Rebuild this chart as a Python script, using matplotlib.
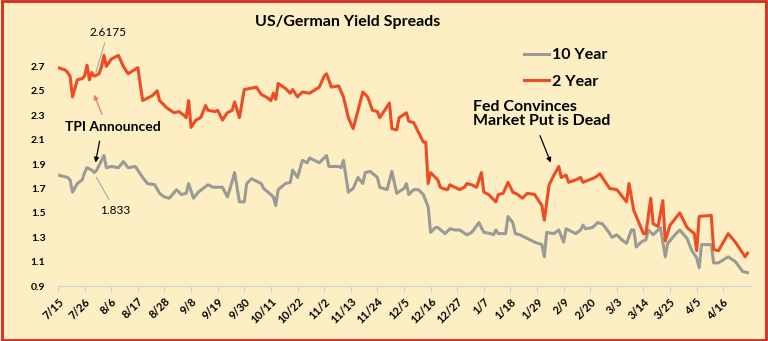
import pandas as pd
import matplotlib.pyplot as plt
import matplotlib.patches as patches

# days after 7/15/2022 and spread values
days_2y = [0, 3, 4, 5, 6, 8, 10, 11, 12, 13, 14, 15, 17, 18, 19, 20, 22, 25, 27, 29,
           33, 35, 39, 41, 42, 45, 48, 50, 52, 53, 54, 55, 57, 59, 61, 62, 65, 66, 68, 70,
           72, 73, 75, 77, 82, 84, 86, 88, 89, 90, 91, 94, 96, 97, 99, 101, 104, 108, 110, 111,
           113, 116, 118, 120, 122, 126, 128, 130, 132, 133, 137, 138, 140, 141, 144, 145, 147, 149, 151, 152,
           153, 154, 157, 158, 159, 161, 162, 164, 166, 168, 169, 171, 173, 175, 176, 178, 181, 182, 184, 186,
           188, 190, 192, 194, 197, 199, 200, 201, 203, 205, 207, 208, 210, 211, 214, 216, 217, 222, 224, 225,
           228, 231, 235, 236, 238, 242, 243, 245, 246, 248, 250, 251, 253, 257, 260, 263, 264, 265, 270, 271,
           273, 277, 280, 284, 285]
vals_2y = [2.69, 2.67, 2.65, 2.62, 2.45, 2.59, 2.60, 2.62, 2.71, 2.59, 2.65, 2.62, 2.64, 2.70, 2.79, 2.70, 2.76, 2.79, 2.70, 2.64,
           2.69, 2.42, 2.46, 2.50, 2.42, 2.36, 2.32, 2.33, 2.30, 2.28, 2.42, 2.20, 2.26, 2.28, 2.38, 2.34, 2.33, 2.34, 2.26, 2.32,
           2.34, 2.41, 2.28, 2.51, 2.53, 2.47, 2.45, 2.42, 2.48, 2.43, 2.56, 2.52, 2.48, 2.51, 2.45, 2.49, 2.48, 2.53, 2.62, 2.64,
           2.53, 2.54, 2.45, 2.28, 2.19, 2.49, 2.45, 2.34, 2.33, 2.28, 2.40, 2.19, 2.18, 2.28, 2.32, 2.25, 2.24, 2.16, 2.08, 2.08,
           1.74, 1.83, 1.77, 1.71, 1.70, 1.69, 1.73, 1.71, 1.69, 1.71, 1.74, 1.73, 1.71, 1.83, 1.67, 1.65, 1.59, 1.65, 1.66, 1.75,
           1.67, 1.65, 1.62, 1.66, 1.65, 1.59, 1.56, 1.44, 1.73, 1.81, 1.88, 1.79, 1.81, 1.75, 1.77, 1.79, 1.75, 1.79, 1.82, 1.79,
           1.70, 1.69, 1.59, 1.74, 1.52, 1.33, 1.33, 1.62, 1.41, 1.39, 1.60, 1.27, 1.40, 1.50, 1.38, 1.33, 1.19, 1.47, 1.48, 1.20,
           1.19, 1.33, 1.26, 1.14, 1.17]

days_10y = [0, 4, 5, 6, 8, 10, 11, 12, 14, 15, 16, 17, 19, 20, 22, 25, 27, 29, 32, 35,
            37, 40, 42, 44, 46, 49, 51, 53, 54, 56, 58, 60, 62, 64, 66, 68, 70, 71, 73, 75,
            77, 78, 80, 84, 85, 88, 89, 90, 91, 94, 96, 97, 99, 101, 103, 104, 108, 111, 112, 116,
            117, 118, 120, 122, 124, 126, 127, 129, 132, 133, 136, 138, 140, 143, 144, 145, 147, 149, 151, 153,
            154, 156, 157, 160, 162, 164, 166, 169, 171, 174, 176, 179, 180, 181, 182, 185, 186, 188, 189, 191,
            193, 197, 200, 201, 202, 205, 207, 209, 210, 213, 214, 216, 217, 218, 221, 223, 225, 227, 229, 231,
            233, 235, 237, 238, 239, 241, 243, 244, 246, 249, 251, 252, 255, 257, 260, 262, 264, 265, 266, 270,
            271, 273, 277, 280, 283, 285]
vals_10y = [1.81, 1.79, 1.77, 1.67, 1.74, 1.77, 1.83, 1.87, 1.85, 1.83, 1.85, 1.89, 1.97, 1.87, 1.88, 1.87, 1.92, 1.87, 1.88, 1.79,
            1.74, 1.73, 1.66, 1.63, 1.62, 1.69, 1.65, 1.66, 1.74, 1.62, 1.67, 1.70, 1.73, 1.71, 1.71, 1.71, 1.63, 1.69, 1.83, 1.59,
            1.59, 1.74, 1.78, 1.74, 1.70, 1.65, 1.63, 1.56, 1.69, 1.74, 1.75, 1.85, 1.79, 1.93, 1.91, 1.95, 1.91, 1.97, 1.88, 1.88,
            1.87, 1.93, 1.67, 1.70, 1.79, 1.74, 1.83, 1.84, 1.79, 1.71, 1.69, 1.84, 1.66, 1.70, 1.74, 1.65, 1.69, 1.69, 1.65, 1.55,
            1.34, 1.38, 1.38, 1.33, 1.37, 1.36, 1.36, 1.32, 1.34, 1.42, 1.34, 1.33, 1.32, 1.36, 1.33, 1.33, 1.47, 1.42, 1.33, 1.32,
            1.30, 1.26, 1.24, 1.14, 1.34, 1.33, 1.36, 1.26, 1.37, 1.34, 1.33, 1.36, 1.40, 1.37, 1.38, 1.42, 1.41, 1.36, 1.30, 1.32,
            1.28, 1.25, 1.36, 1.36, 1.22, 1.26, 1.28, 1.36, 1.32, 1.38, 1.14, 1.25, 1.32, 1.36, 1.29, 1.19, 1.13, 1.05, 1.24, 1.24,
            1.09, 1.09, 1.14, 1.10, 1.02, 1.01]

start = pd.Timestamp('2022-07-15')
dates_2y = start + pd.to_timedelta(days_2y, unit='D')
dates_10y = start + pd.to_timedelta(days_10y, unit='D')
tick_dates = pd.date_range(start, periods=26, freq='11D')
tick_labels = [f"{d.month}/{d.day}" for d in tick_dates]
y_ticks = [0.9, 1.1, 1.3, 1.5, 1.7, 1.9, 2.1, 2.3, 2.5, 2.7]

bg = '#FDEEC4'
red = '#EE4C24'
gray = '#9A9A96'

plt.rcParams['font.family'] = ['Lato', 'DejaVu Sans']

fig = plt.figure(figsize=(7.68, 3.41), dpi=100, facecolor=bg)
ax = fig.add_axes([0.0755, 0.161, 0.901, 0.698])
ax.set_facecolor(bg)

ax.plot(dates_10y, vals_10y, color=gray, lw=2.2, label='10 Year')
ax.plot(dates_2y, vals_2y, color=red, lw=2.2, label='2 Year')

ax.set_xlim(start, start + pd.Timedelta(days=286))
ax.set_ylim(0.9, 2.85)
ax.set_yticks(y_ticks)
ax.set_yticklabels([f"{v:.1f}" for v in y_ticks], fontsize=7.5, fontweight='bold')
ax.set_xticks(tick_dates)
ax.set_xticklabels(tick_labels, rotation=45, ha='right', rotation_mode='anchor',
                   fontsize=8, fontweight='bold')
ax.tick_params(axis='y', length=0, pad=9)
ax.tick_params(axis='x', length=4, color='#C9CFDC', pad=3)
for s in ['top', 'right', 'left']:
    ax.spines[s].set_visible(False)
ax.spines['bottom'].set_color('#C9CFDC')

fig.text(0.452, 0.935, 'US/German Yield Spreads', ha='center', va='center',
         fontsize=11.5, fontweight='bold')

ax.legend(loc='upper left', bbox_to_anchor=(0.652, 1.06), frameon=False,
          handlelength=1.6, handletextpad=0.2, labelspacing=0.75,
          prop={'weight': 'bold', 'size': 11.5})


def day(d):
    return start + pd.Timedelta(days=d)


ax.annotate('2.6175', xy=(day(15.3), 2.63), xytext=(day(20.7), 2.98),
            ha='center', va='center', fontsize=8.5, annotation_clip=False,
            arrowprops=dict(arrowstyle='-', color='#A8A8A8', lw=0.8))
ax.annotate('1.833', xy=(day(15.3), 1.81), xytext=(day(23.6), 1.52),
            ha='center', va='center', fontsize=8.5,
            arrowprops=dict(arrowstyle='-', color='#A8A8A8', lw=0.8))
ax.text(day(22.8), 2.20, 'TPI Announced', ha='center', va='center',
        fontsize=10, fontweight='bold')
ax.annotate('', xy=(day(14.5), 2.49), xytext=(day(18.6), 2.285),
            arrowprops=dict(arrowstyle='-|>', color='#F07A5A', lw=0.9,
                            mutation_scale=7))
ax.annotate('', xy=(day(15.3), 1.89), xytext=(day(17.4), 2.11),
            arrowprops=dict(arrowstyle='-|>', color='black', lw=0.9,
                            mutation_scale=7))
ax.text(day(171.4), 2.306, 'Fed Convinces\nMarket Put is Dead', ha='left', va='center',
        fontsize=11.5, fontweight='bold', linespacing=1.0)
ax.annotate('', xy=(day(204.1), 1.89), xytext=(day(198.8), 2.154),
            arrowprops=dict(arrowstyle='-|>', color='black', lw=0.9,
                            mutation_scale=7))

fig.patches.append(patches.Rectangle((0.002, 0.003), 0.996, 0.994, transform=fig.transFigure,
                                     fill=False, edgecolor='#D42A22', lw=2))

fig.savefig('out.png', dpi=100, facecolor=bg)
